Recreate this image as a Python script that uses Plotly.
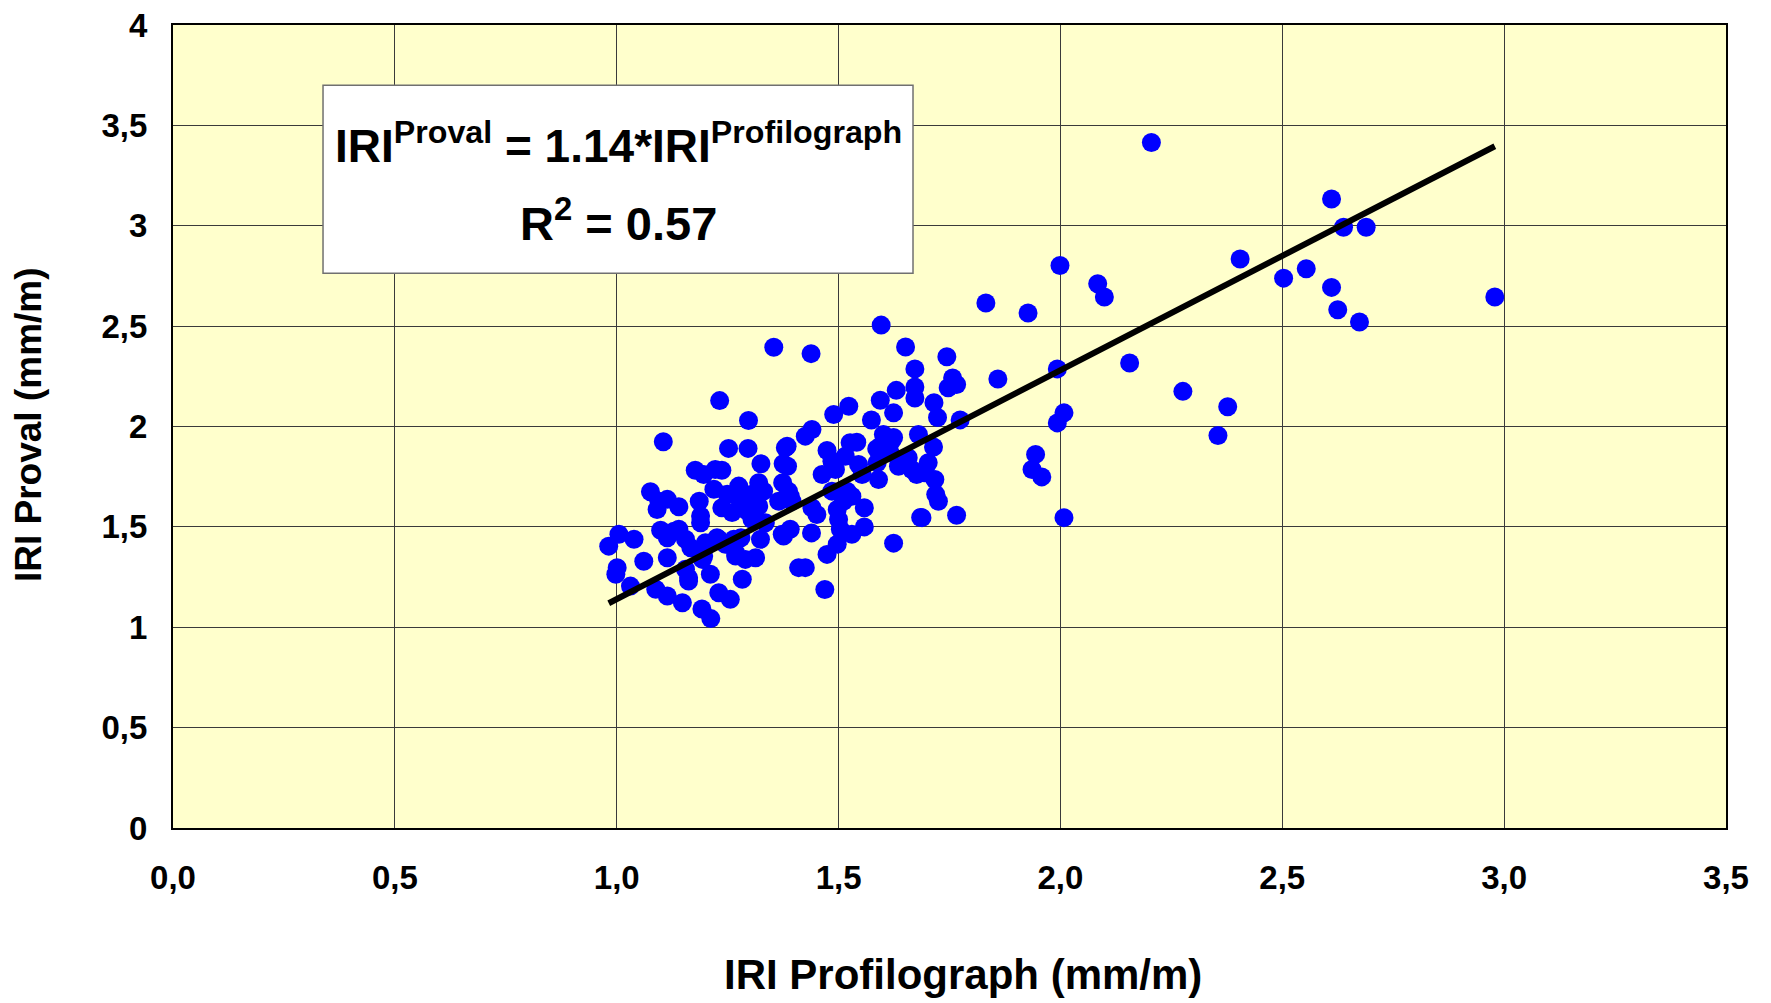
import plotly.graph_objects as go

# Paired IRI readings (mm/m): profilograph (x) vs Proval (y)
iri_profilograph = [
    2.205, 2.611, 2.638, 2.689, 2.979, 2.405, 2.503, 2.554, 2.611, 2.625, 2.674,
    1.999, 2.084, 2.099, 1.927, 1.832, 1.859, 1.993, 2.156, 2.276, 2.377, 2.355,
    2.008, 1.993, 1.944, 1.936, 1.958, 2.008,
    1.596, 1.651, 1.744, 1.672, 1.757, 1.766, 1.747, 1.630, 1.672, 1.672, 1.594,
    1.624, 1.523, 1.489, 1.715, 1.723, 1.774, 1.766, 1.624, 1.685,
    1.354, 1.438, 1.232, 1.105, 1.469, 1.212, 1.192,
    1.297, 1.574,
    1.252, 1.296, 1.325, 1.380, 1.375, 1.440, 1.425, 1.474, 1.526, 1.541, 1.601,
    1.620, 1.680, 1.714, 1.586,
    1.177, 1.196, 1.222, 1.237, 1.219, 1.249, 1.275, 1.305, 1.331, 1.320, 1.294,
    1.260, 1.237, 1.365, 1.374, 1.395, 1.387,
    1.076, 1.095, 1.114, 1.140, 1.091, 1.186, 1.189, 1.099, 1.114, 1.140, 1.155,
    1.167, 1.200, 1.230, 1.245, 1.268, 1.290, 1.313, 1.283, 1.280, 1.324, 1.335,
    1.305, 1.373, 1.391, 1.439, 1.410, 1.425, 1.474, 1.497, 1.497, 1.500, 1.511,
    1.519, 1.530, 1.558, 1.558, 1.451, 1.440, 1.463, 1.493, 1.485, 1.515, 1.545,
    1.553, 1.587, 1.590, 1.616, 1.635, 1.657, 1.665, 1.695, 1.702, 1.717, 1.725,
    1.688,
    0.982, 1.005, 1.039, 1.001, 0.998, 1.061, 1.031, 1.088, 1.114, 1.148, 1.114,
    1.155, 1.162, 1.211, 1.230, 1.256, 1.193, 1.320, 1.275, 1.530, 1.485,
    1.384, 1.594, 1.624,
    1.189, 1.283, 1.129, 1.226, 1.264, 1.376, 1.196, 1.268, 1.162,
    1.385, 1.391, 1.504, 1.719, 1.676,
]
iri_proval = [
    3.415, 3.133, 2.993, 2.993, 2.645, 2.834, 2.739, 2.786, 2.693, 2.582, 2.521,
    2.802, 2.711, 2.645, 2.565, 2.615, 2.237, 2.287, 2.316, 2.175, 2.098, 1.955,
    2.068, 2.018, 1.861, 1.786, 1.749, 1.546,
    2.505, 2.396, 2.347, 2.287, 2.242, 2.209, 2.193, 2.180, 2.197, 2.142, 2.131,
    2.068, 2.101, 2.060, 2.118, 2.045, 2.033, 1.558, 1.419, 1.547,
    2.395, 2.363, 2.129, 1.924, 1.188, 1.043, 1.091,
    2.030, 2.032,
    1.891, 1.891, 1.814, 1.894, 1.814, 1.985, 1.952, 1.880, 1.919, 1.922, 1.960,
    1.930, 1.960, 1.898, 1.889,
    1.782, 1.761, 1.786, 1.782, 1.687, 1.662, 1.645, 1.662, 1.678, 1.604, 1.579,
    1.571, 1.595, 1.628, 1.720, 1.628, 1.678,
    1.675, 1.628, 1.637, 1.600, 1.587, 1.628, 1.521, 1.483, 1.446, 1.488, 1.438,
    1.396, 1.421, 1.438, 1.413, 1.371, 1.338, 1.346, 1.239, 1.446, 1.438, 1.521,
    1.537, 1.463, 1.488, 1.470, 1.297, 1.297, 1.363, 1.413, 1.587, 1.537, 1.628,
    1.678, 1.463, 1.595, 1.500, 1.562, 1.595, 1.761, 1.786, 1.827, 1.852, 1.811,
    1.761, 1.819, 1.736, 1.869, 1.802, 1.844, 1.786, 1.769, 1.819, 1.736, 1.628,
    1.546,
    1.404, 1.463, 1.438, 1.297, 1.264, 1.329, 1.205, 1.189, 1.156, 1.122, 1.346,
    1.289, 1.230, 1.264, 1.172, 1.139, 1.338, 1.720, 1.703, 1.653, 1.678,
    1.902, 1.902, 1.945,
    1.554, 1.653, 1.478, 1.446, 1.438, 1.454, 1.355, 1.355, 1.246,
    1.802, 1.653, 1.488, 1.662, 1.761,
]

slope = 1.14
r_squared = 0.57

x_ticks = [0.0, 0.5, 1.0, 1.5, 2.0, 2.5, 3.0, 3.5]
x_tick_text = ["0,0", "0,5", "1,0", "1,5", "2,0", "2,5", "3,0", "3,5"]
y_ticks = [0, 0.5, 1, 1.5, 2, 2.5, 3, 3.5, 4]
y_tick_text = ["0", "0,5", "1", "1,5", "2", "2,5", "3", "3,5", "4"]

# Fitted line through the origin, evaluated at the measured x values
fit_x = sorted(iri_profilograph)
fit_y = [slope * v for v in fit_x]

FONT = "Arial, Liberation Sans, Helvetica, sans-serif"

fig = go.Figure()
fig.add_trace(go.Scatter(
    x=iri_profilograph, y=iri_proval, mode="markers",
    marker=dict(color="#0000FF", size=19, line=dict(width=0)),
    showlegend=False, hoverinfo="x+y",
))
fig.add_trace(go.Scatter(
    x=fit_x, y=fit_y, mode="lines",
    line=dict(color="black", width=6),
    showlegend=False, hoverinfo="skip",
))

axis_common = dict(
    showgrid=True, gridcolor="#3a3a3a", gridwidth=1,
    showline=True, linecolor="#000000", linewidth=2, mirror=True,
    zeroline=False, ticks="", automargin=False,
    tickfont=dict(family=FONT, size=33, color="black", weight="bold"),
)
fig.update_xaxes(range=[0, 3.5], tickvals=x_ticks, ticktext=x_tick_text,
                 ticklabelstandoff=19, **axis_common)
fig.update_yaxes(range=[0, 4], tickvals=y_ticks, ticktext=y_tick_text,
                 ticklabelstandoff=17, **axis_common)

# Equation box
fig.add_shape(type="rect", xref="paper", yref="paper",
              x0=0.0966, x1=0.4765, y0=0.691, y1=0.925,
              fillcolor="white", line=dict(color="#707070", width=1.5),
              layer="above")
fig.add_annotation(
    xref="paper", yref="paper", x=0.2866, y=0.853, xanchor="center", yanchor="middle",
    text="IRI<sup>Proval</sup> = %.2f*IRI<sup>Profilograph</sup>" % slope,
    showarrow=False,
    font=dict(family=FONT, size=46, color="black", weight="bold"),
)
fig.add_annotation(
    xref="paper", yref="paper", x=0.2866, y=0.757, xanchor="center", yanchor="middle",
    text="R<sup>2</sup> = %.2f" % r_squared,
    showarrow=False,
    font=dict(family=FONT, size=47, color="black", weight="bold"),
)

# Axis titles
fig.add_annotation(
    xref="paper", yref="paper", x=0.509, y=-0.182, xanchor="center", yanchor="middle",
    text="IRI Profilograph (mm/m)", showarrow=False,
    font=dict(family=FONT, size=42, color="black", weight="bold"),
)
fig.add_annotation(
    xref="paper", yref="paper", x=-0.0934, y=0.503, xanchor="center", yanchor="middle",
    text="IRI Proval (mm/m)", showarrow=False, textangle=-90,
    font=dict(family=FONT, size=37, color="black", weight="bold"),
)

fig.update_layout(
    width=1771, height=1003,
    margin=dict(l=173, r=45, t=25, b=175, autoexpand=False),
    paper_bgcolor="white", plot_bgcolor="#FFFFCC",
    showlegend=False,
)

fig.write_html("out.html")
